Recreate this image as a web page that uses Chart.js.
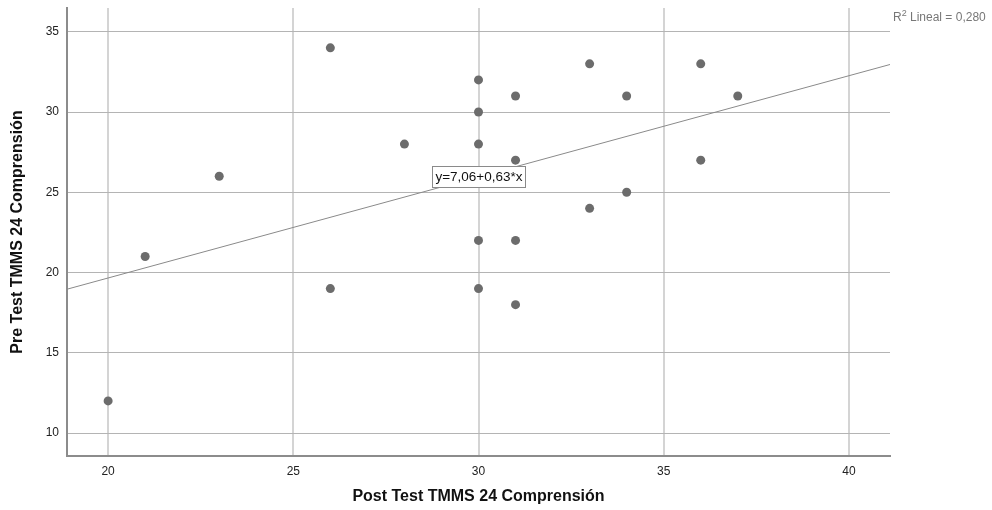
<!DOCTYPE html>
<html>
<head>
<meta charset="utf-8">
<script src="https://cdn.jsdelivr.net/npm/chart.js@4"></script>
<style>
html,body{margin:0;padding:0;background:#fff;}
#wrap{width:992px;height:510px;position:relative;}
</style>
</head>
<body>
<div id="wrap"><canvas id="c" width="992" height="510"></canvas></div>
<script>
const postTest = [20, 21, 23, 26, 26, 28, 30, 30, 30, 30, 30, 31, 31, 31, 31, 33, 33, 34, 34, 36, 36, 37];
const preTest  = [12, 21, 26, 34, 19, 28, 32, 30, 28, 22, 19, 31, 27, 22, 18, 33, 24, 31, 25, 33, 27, 31];
const xTicks = [20, 25, 30, 35, 40];
const yTicks = [10, 15, 20, 25, 30, 35];
const xRange = [18.89, 41.11];
const yRange = [8.57, 36.48];
const fitIntercept = 7.06;
const fitSlope = 0.63;
const fitLabel = 'y=7,06+0,63*x';
const r2Label = '0,280';
const xTitle = 'Post Test TMMS 24 Comprensión';
const yTitle = 'Pre Test TMMS 24 Comprensión';

const points = postTest.map((x, i) => ({x: x, y: preTest[i]}));
const fitLine = xRange.map(x => ({x: x, y: fitIntercept + fitSlope * x}));

const overlay = {
  id: 'overlay',
  afterDatasetsDraw(chart) {
    const ctx = chart.ctx;
    const xs = chart.scales.x, ys = chart.scales.y;
    const lx = 30;
    const px = xs.getPixelForValue(lx);
    const py = ys.getPixelForValue(fitIntercept + fitSlope * lx);
    ctx.save();
    ctx.font = '13.5px "Liberation Sans", Arial, sans-serif';
    const w = Math.round(ctx.measureText(fitLabel).width + 6);
    const h = 21;
    const bx = Math.round(px - w / 2), by = Math.round(py - h / 2);
    ctx.fillStyle = '#fff';
    ctx.fillRect(bx, by, w, h);
    ctx.strokeStyle = '#8a8a8a';
    ctx.lineWidth = 1;
    ctx.strokeRect(bx + 0.5, by + 0.5, w, h);
    ctx.fillStyle = '#111';
    ctx.textAlign = 'center';
    ctx.textBaseline = 'middle';
    ctx.fillText(fitLabel, bx + w / 2 + 0.5, by + h / 2 + 1);
    ctx.fillStyle = '#777';
    ctx.textAlign = 'left';
    ctx.textBaseline = 'alphabetic';
    let tx = chart.chartArea.right + 3;
    const ty = 21;
    ctx.font = '12px "Liberation Sans", Arial, sans-serif';
    ctx.fillText('R', tx, ty);
    tx += ctx.measureText('R').width;
    ctx.font = '9px "Liberation Sans", Arial, sans-serif';
    ctx.fillText('2', tx, ty - 5);
    tx += ctx.measureText('2').width;
    ctx.font = '12px "Liberation Sans", Arial, sans-serif';
    ctx.fillText(' Lineal = ' + r2Label, tx, ty);
    ctx.restore();
  }
};

new Chart(document.getElementById('c'), {
  type: 'scatter',
  data: {
    datasets: [
      {
        type: 'line',
        data: fitLine,
        borderColor: '#8a8a8a',
        borderWidth: 1,
        pointRadius: 0,
        fill: false,
        order: 2
      },
      {
        data: points,
        backgroundColor: '#6c6c6c',
        borderColor: '#6c6c6c',
        borderWidth: 0,
        pointRadius: 4.5,
        pointHoverRadius: 4.5,
        order: 1
      }
    ]
  },
  options: {
    responsive: false,
    animation: false,
    events: [],
    layout: {padding: {left: 0, right: 102, top: 8, bottom: 0}},
    plugins: {legend: {display: false}, tooltip: {enabled: false}},
    scales: {
      x: {
        type: 'linear',
        min: xRange[0], max: xRange[1],
        afterBuildTicks: s => { s.ticks = xTicks.map(v => ({value: v})); },
        afterFit: s => { s.height = 54; s.paddingLeft = 0; s.paddingRight = 0; },
        grid: {color: '#d4d4d4', lineWidth: 2, drawTicks: false},
        border: {display: true, color: '#8c8c8c', width: 2},
        ticks: {color: '#222', font: {family: '"Liberation Sans", Arial, sans-serif', size: 12}, padding: 8, maxRotation: 0},
        title: {display: true, text: xTitle, color: '#111', font: {family: '"Liberation Sans", Arial, sans-serif', size: 16, weight: 'bold'}, padding: {top: 14}}
      },
      y: {
        type: 'linear',
        min: yRange[0], max: yRange[1],
        afterBuildTicks: s => { s.ticks = yTicks.map(v => ({value: v})); },
        afterFit: s => { s.width = 67; s.paddingTop = 0; s.paddingBottom = 0; },
        grid: {color: '#b4b4b4', lineWidth: 1, drawTicks: false},
        border: {display: true, color: '#8c8c8c', width: 2},
        ticks: {color: '#222', font: {family: '"Liberation Sans", Arial, sans-serif', size: 12}, padding: 8},
        title: {display: true, text: yTitle, color: '#111', font: {family: '"Liberation Sans", Arial, sans-serif', size: 16, weight: 'bold'}, padding: {top: 8, bottom: 4}}
      }
    }
  },
  plugins: [overlay]
});
</script>
</body>
</html>
